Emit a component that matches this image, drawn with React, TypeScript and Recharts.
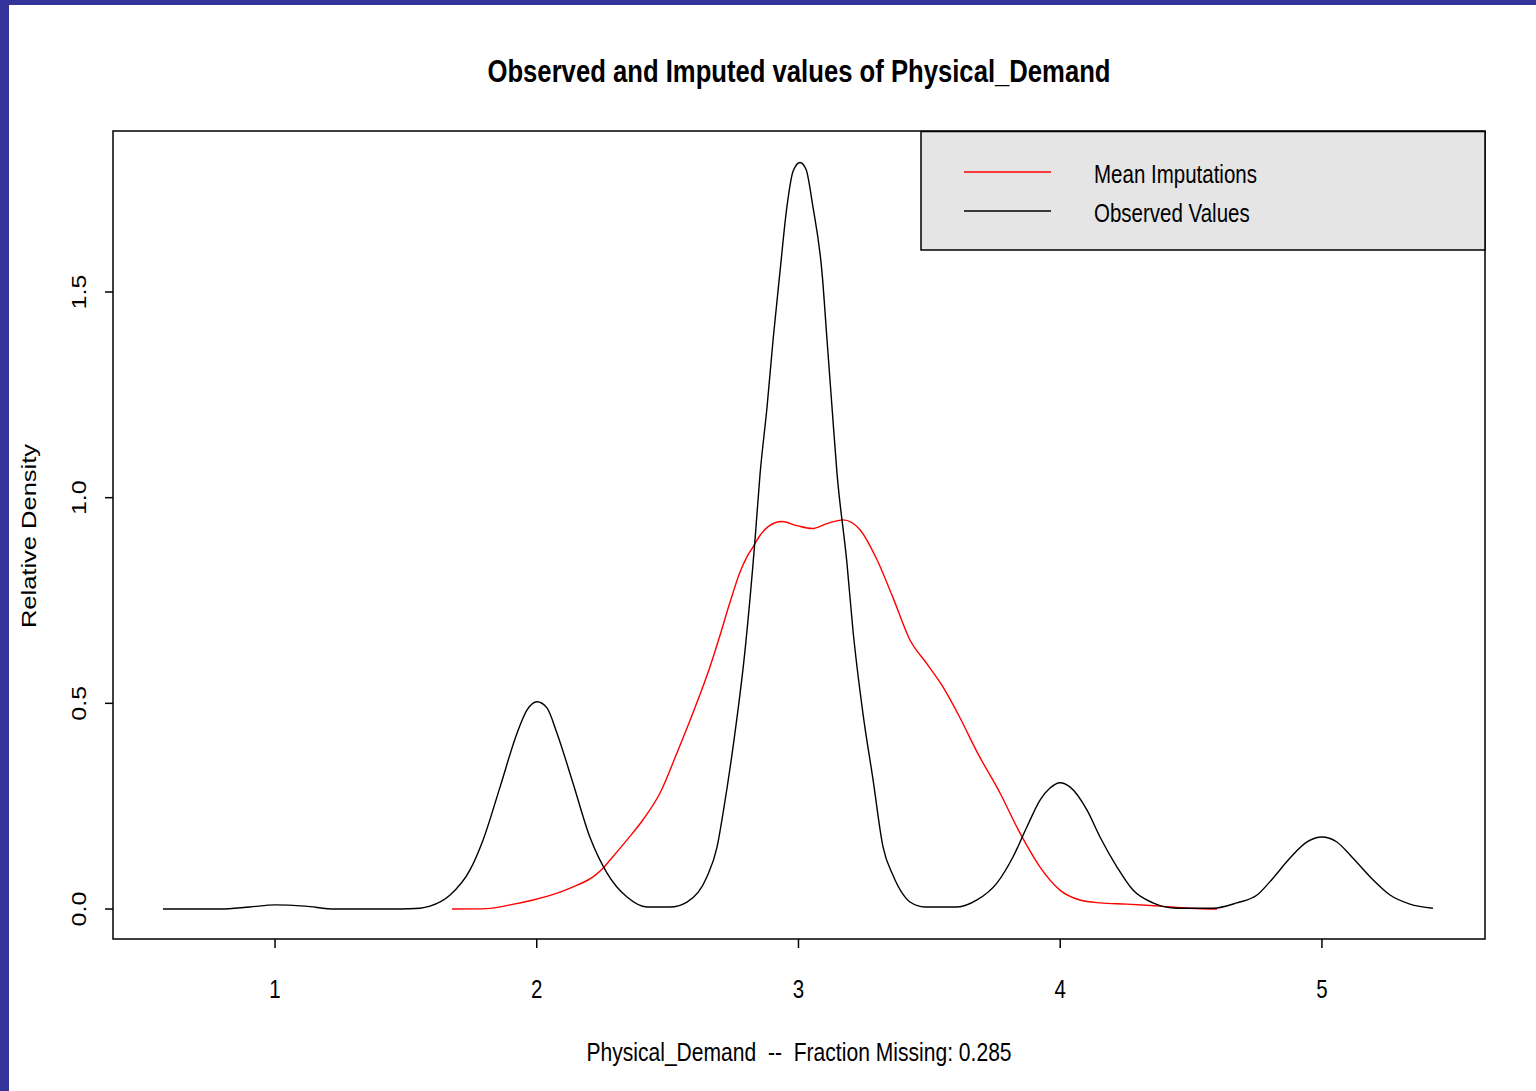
import React from 'react';
import { LineChart, Line, XAxis, YAxis, ReferenceArea } from 'recharts';

// ---- data ----
const OBS_X = [0.572, 0.790, 0.904, 1.000, 1.115, 1.229, 1.478, 1.554, 1.592, 1.669, 1.745, 1.795, 1.860, 1.925, 1.963, 2.001, 2.039, 2.077, 2.138, 2.203, 2.268, 2.345, 2.421, 2.509, 2.574, 2.650, 2.689, 2.712, 2.750, 2.796, 2.834, 2.853, 2.880, 2.903, 2.929, 2.956, 2.979, 3.006, 3.029, 3.055, 3.090, 3.109, 3.128, 3.147, 3.185, 3.208, 3.246, 3.285, 3.323, 3.361, 3.399, 3.426, 3.483, 3.606, 3.682, 3.758, 3.820, 3.873, 3.923, 3.961, 3.999, 4.037, 4.102, 4.152, 4.217, 4.278, 4.354, 4.446, 4.584, 4.675, 4.752, 4.813, 4.878, 4.943, 5.000, 5.057, 5.118, 5.195, 5.260, 5.336, 5.424];
const OBS_Y = [0, 0, 0.005, 0.010, 0.007, 0, 0, 0.002, 0.007, 0.034, 0.095, 0.168, 0.297, 0.428, 0.484, 0.504, 0.489, 0.428, 0.307, 0.175, 0.088, 0.029, 0.005, 0.005, 0.017, 0.078, 0.151, 0.234, 0.394, 0.630, 0.898, 1.056, 1.221, 1.384, 1.547, 1.708, 1.793, 1.815, 1.798, 1.708, 1.547, 1.384, 1.221, 1.061, 0.842, 0.679, 0.477, 0.314, 0.151, 0.082, 0.036, 0.017, 0.005, 0.005, 0.022, 0.063, 0.127, 0.200, 0.265, 0.294, 0.307, 0.297, 0.241, 0.175, 0.102, 0.046, 0.015, 0.002, 0.002, 0.015, 0.034, 0.075, 0.124, 0.163, 0.175, 0.163, 0.124, 0.071, 0.034, 0.012, 0.002];

const IMP_X = [1.676, 1.810, 1.898, 1.986, 2.089, 2.154, 2.215, 2.253, 2.280, 2.345, 2.406, 2.471, 2.536, 2.597, 2.662, 2.700, 2.738, 2.776, 2.803, 2.826, 2.853, 2.883, 2.937, 2.994, 3.052, 3.109, 3.170, 3.235, 3.300, 3.361, 3.426, 3.491, 3.552, 3.617, 3.682, 3.770, 3.846, 3.923, 3.999, 4.075, 4.152, 4.255, 4.381, 4.496, 4.599];
const IMP_Y = [0, 0.001, 0.010, 0.022, 0.041, 0.058, 0.078, 0.099, 0.119, 0.168, 0.217, 0.282, 0.380, 0.477, 0.589, 0.665, 0.745, 0.818, 0.856, 0.880, 0.908, 0.929, 0.942, 0.932, 0.925, 0.937, 0.946, 0.922, 0.849, 0.757, 0.654, 0.596, 0.540, 0.465, 0.382, 0.282, 0.185, 0.102, 0.046, 0.022, 0.015, 0.012, 0.007, 0.002, 0];

const X_TICKS = [1, 2, 3, 4, 5];
const Y_TICKS = [0, 0.5, 1.0, 1.5];
const Y_TICK_LABELS = ['0.0', '0.5', '1.0', '1.5'];
const X_DOMAIN = [0.381, 5.623];
const Y_DOMAIN = [-0.0729, 1.8914];

const SERIES_NAMES = ['Mean Imputations', 'Observed Values'];
const SERIES_COLORS = ['#ff0000', '#000000'];
const TITLE = 'Observed and Imputed values of Physical_Demand';
const X_LABEL = 'Physical_Demand  --  Fraction Missing: 0.285';
const Y_LABEL = 'Relative Density';

const observed = OBS_X.map((x, i) => ({ x, y: OBS_Y[i] }));
const imputed = IMP_X.map((x, i) => ({ x, y: IMP_Y[i] }));

const FONT = '"Liberation Sans", Arial, Helvetica, sans-serif';
const NARROW = 0.82;

const XTick = (props: any) => {
  const { x, y, payload } = props;
  return (
    <g transform={`translate(${x},${y})`}>
      <text x={0} y={0} dy={48} transform={`scale(${NARROW},1)`} textAnchor="middle" fontSize={25} fontFamily={FONT} fill="#000">
        {String(payload.value)}
      </text>
    </g>
  );
};

const YTick = (props: any) => {
  const { x, y, payload } = props;
  const idx = Y_TICKS.indexOf(payload.value);
  const label = idx >= 0 ? Y_TICK_LABELS[idx] : String(payload.value);
  return (
    <g transform={`translate(${x - 17},${y}) rotate(-90) scale(1,${NARROW})`}>
      <text x={0} y={0} textAnchor="middle" fontSize={25} fontFamily={FONT} fill="#000">
        {label}
      </text>
    </g>
  );
};

export default function App() {
  return (
    <div style={{ position: 'absolute', left: 0, top: 0, width: 1536, height: 1091, background: '#333399', overflow: 'hidden' }}>
      <div style={{ position: 'absolute', left: 9, top: 5, right: 0, bottom: 0, background: '#ffffff' }} />
      <div style={{ position: 'absolute', left: 0, top: 0 }}>
        <LineChart width={1536} height={1091} margin={{ top: 131, right: 51, bottom: 92, left: 53 }}>
          <XAxis
            type="number"
            dataKey="x"
            domain={X_DOMAIN}
            ticks={X_TICKS}
            allowDataOverflow
            axisLine={false}
            tickLine={{ stroke: '#000', strokeWidth: 1.5 }}
            tickSize={9}
            height={60}
            tick={<XTick />}
            interval={0}
          />
          <YAxis
            type="number"
            dataKey="y"
            domain={Y_DOMAIN}
            ticks={Y_TICKS}
            allowDataOverflow
            axisLine={false}
            tickLine={{ stroke: '#000', strokeWidth: 1.5 }}
            tickSize={8}
            width={60}
            tick={<YTick />}
            interval={0}
          />
          <ReferenceArea
            x1={X_DOMAIN[0]}
            x2={X_DOMAIN[1]}
            y1={Y_DOMAIN[0]}
            y2={Y_DOMAIN[1]}
            fill="none"
            fillOpacity={0}
            stroke="#000"
            strokeWidth={1.5}
            ifOverflow="visible"
          />
          <Line data={imputed} dataKey="y" type="monotone" stroke={SERIES_COLORS[0]} strokeWidth={1.4} dot={false} isAnimationActive={false} name={SERIES_NAMES[0]} />
          <Line data={observed} dataKey="y" type="monotone" stroke={SERIES_COLORS[1]} strokeWidth={1.4} dot={false} isAnimationActive={false} name={SERIES_NAMES[1]} />
        </LineChart>
      </div>
      <svg width={1536} height={1091} style={{ position: 'absolute', left: 0, top: 0, pointerEvents: 'none' }}>
        <text transform={`translate(799,82) scale(${NARROW},1)`} textAnchor="middle" fontSize={31.3} fontWeight="bold" fontFamily={FONT} fill="#000">
          {TITLE}
        </text>
        <text transform={`translate(799,1061) scale(${NARROW},1)`} textAnchor="middle" fontSize={25.7} fontFamily={FONT} fill="#000" style={{ whiteSpace: 'pre' }}>
          {X_LABEL}
        </text>
        <g transform={`translate(36,536) rotate(-90) scale(1,${NARROW})`}>
          <text x={0} y={0} textAnchor="middle" fontSize={25.5} fontFamily={FONT} fill="#000">
            {Y_LABEL}
          </text>
        </g>
        <rect x={921} y={131.5} width={564} height={118.5} fill="#e5e5e5" stroke="#000" strokeWidth={1.5} />
        {SERIES_NAMES.map((name, i) => (
          <g key={name}>
            <line x1={964} x2={1051} y1={172 + i * 39} y2={172 + i * 39} stroke={SERIES_COLORS[i]} strokeWidth={1.5} />
            <text transform={`translate(1094,${183 + i * 39}) scale(${NARROW},1)`} fontSize={25} fontFamily={FONT} fill="#000">
              {name}
            </text>
          </g>
        ))}
      </svg>
    </div>
  );
}
